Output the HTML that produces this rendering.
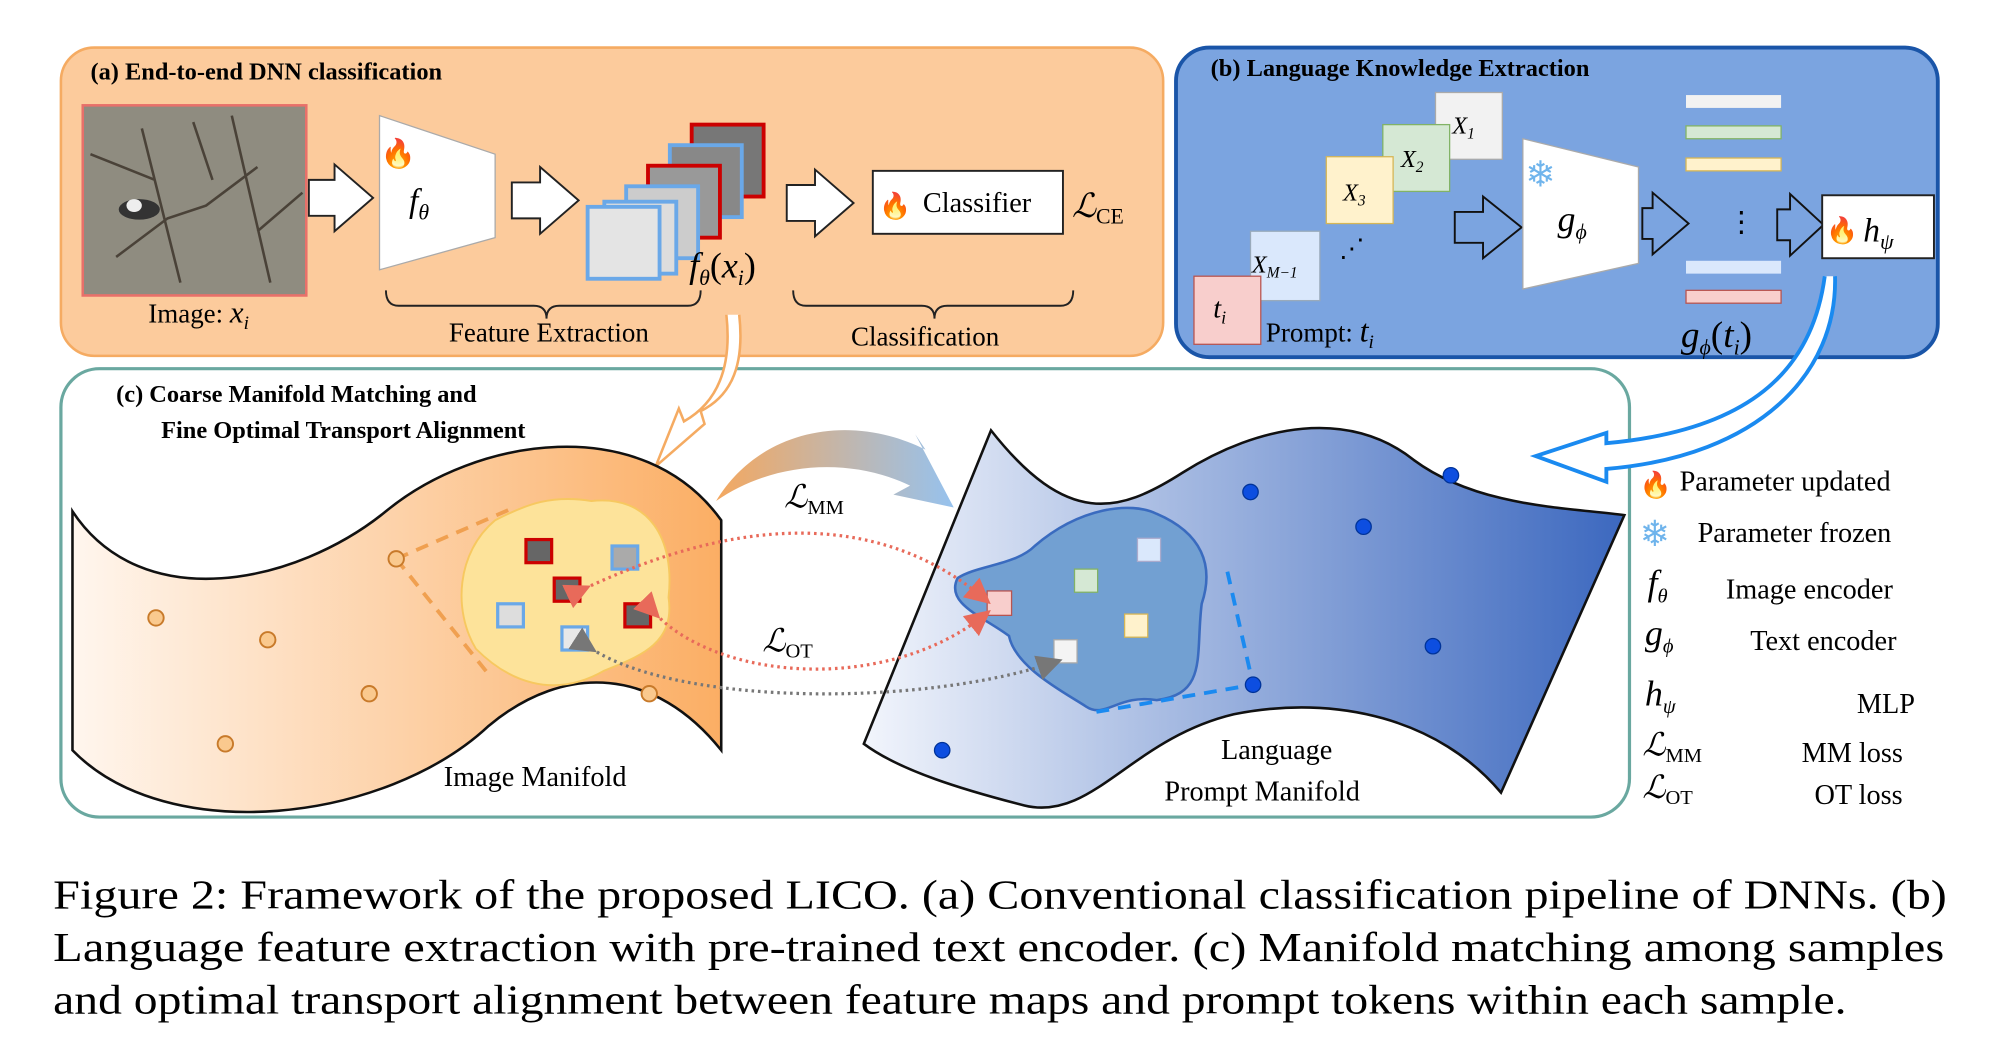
<!DOCTYPE html>
<html><head><meta charset="utf-8"><style>
html,body{margin:0;padding:0;background:#fff}
svg{display:block}
text{font-family:"Liberation Serif",serif}
</style></head><body>
<svg width="2000" height="1047" viewBox="0 0 1556 815" xmlns="http://www.w3.org/2000/svg">
<defs>
<linearGradient id="og" x1="0" x2="1"><stop offset="0" stop-color="#fff6ee"/><stop offset="1" stop-color="#fbae64"/></linearGradient>
<linearGradient id="bg" x1="0" x2="1"><stop offset="0" stop-color="#f2f5fc"/><stop offset="0.4" stop-color="#a7bbe2"/><stop offset="1" stop-color="#3c68bf"/></linearGradient>
<linearGradient id="mm" x1="0" x2="1"><stop offset="0" stop-color="#f4a860"/><stop offset="1" stop-color="#96c2ee"/></linearGradient>
<marker id="ar" markerWidth="8" markerHeight="8" refX="6" refY="4" orient="auto"><path d="M0,0 L8,4 L0,8 z" fill="#e86a5a"/></marker>
<marker id="ag" markerWidth="8" markerHeight="8" refX="6" refY="4" orient="auto"><path d="M0,0 L8,4 L0,8 z" fill="#777"/></marker>
</defs>
<!-- panel a -->
<rect x="47" y="37" width="858" height="240" rx="26" fill="#fccb9c" stroke="#f5ab62" stroke-width="2"/>
<text x="70" y="62" font-size="19" font-weight="bold">(a) End-to-end DNN classification</text>
<rect x="64" y="82" width="174" height="148" fill="#8f8c80" stroke="#e8706a" stroke-width="2"/>
<path d="M90,200 L130,170 L160,160 L200,130 M110,100 L140,220 M180,90 L210,220 M70,120 L120,140 M200,180 L235,150 M150,95 L165,140" stroke="#4a4238" stroke-width="2" fill="none"/>
<ellipse cx="108" cy="163" rx="16" ry="8" fill="#333"/>
<ellipse cx="104" cy="160" rx="6" ry="5" fill="#eee"/>
<text x="115" y="251" font-size="21">Image: <tspan font-style="italic" font-size="24">x</tspan><tspan font-style="italic" font-size="15" dy="5">i</tspan></text>
<g fill="#fff" stroke="#222" stroke-width="1.5">
<path d="M240,140 h20 v-12 l30,26 l-30,26 v-12 h-20 z"/>
<path d="M398,142 h22 v-12 l30,26 l-30,26 v-12 h-22 z"/>
<path d="M612,144 h22 v-12 l30,26 l-30,26 v-12 h-22 z"/>
</g>
<path d="M295,90 L385,120 L385,185 L295,210 z" fill="#fff" stroke="#aaa"/>
<text x="318" y="165" font-size="26" font-style="italic">f<tspan font-size="17" dy="6">θ</tspan></text>
<text x="296" y="127" font-size="22">🔥</text>
<rect x="538" y="97" width="56" height="56" fill="#777" stroke="#c00" stroke-width="3"/>
<rect x="521" y="113" width="56" height="56" fill="#888" stroke="#6aa8e8" stroke-width="3"/>
<rect x="504" y="129" width="56" height="56" fill="#999" stroke="#c00" stroke-width="3"/>
<rect x="487" y="145" width="56" height="56" fill="#ccc" stroke="#6aa8e8" stroke-width="3"/>
<rect x="470" y="157" width="56" height="56" fill="#ddd" stroke="#6aa8e8" stroke-width="3"/>
<rect x="457" y="161" width="56" height="56" fill="#e4e4e4" stroke="#6aa8e8" stroke-width="3"/>
<text x="536" y="216" font-size="28" font-style="italic">f<tspan font-size="17" dy="6">θ</tspan><tspan dy="-6" font-style="normal">(</tspan>x<tspan font-size="17" dy="6">i</tspan><tspan dy="-6" font-style="normal">)</tspan></text>
<rect x="679" y="133" width="148" height="49" fill="#fff" stroke="#222" stroke-width="1.5"/>
<text x="684" y="167" font-size="20">🔥</text>
<text x="718" y="165" font-size="22">Classifier</text>
<text x="834" y="169" font-size="26" font-style="italic">ℒ<tspan font-size="17" font-style="normal" dy="5">CE</tspan></text>
<path d="M300,226 q0,12 10,12 h105 q10,0 10,10 q0,-10 10,-10 h100 q10,0 10,-12" fill="none" stroke="#222" stroke-width="1.5"/>
<text x="349" y="266" font-size="21">Feature Extraction</text>
<path d="M617,226 q0,12 10,12 h90 q10,0 10,10 q0,-10 10,-10 h88 q10,0 10,-12" fill="none" stroke="#222" stroke-width="1.5"/>
<text x="662" y="269" font-size="21">Classification</text>
<!-- panel b -->
<rect x="915" y="37" width="593" height="241" rx="26" fill="#7ba4e0" stroke="#1a55a8" stroke-width="3"/>
<text x="942" y="59" font-size="19" font-weight="bold">(b) Language Knowledge Extraction</text>
<rect x="1117" y="72" width="52" height="52" fill="#f2f2f2" stroke="#aaa"/>
<text x="1130" y="104" font-size="19" font-style="italic">X<tspan font-size="12" dy="4">1</tspan></text>
<rect x="1076" y="97" width="52" height="52" fill="#d5e8d4" stroke="#82b366"/>
<text x="1090" y="130" font-size="19" font-style="italic">X<tspan font-size="12" dy="4">2</tspan></text>
<rect x="1032" y="122" width="52" height="52" fill="#fff2cc" stroke="#d6b656"/>
<text x="1045" y="156" font-size="19" font-style="italic">X<tspan font-size="12" dy="4">3</tspan></text>
<text x="1042" y="200" font-size="20">⋰</text>
<rect x="973" y="180" width="54" height="54" fill="#dae8fc" stroke="#9ab"/>
<text x="974" y="212" font-size="19" font-style="italic">X<tspan font-size="12" dy="4">M−1</tspan></text>
<rect x="929" y="215" width="52" height="53" fill="#f8cecc" stroke="#b85450"/>
<text x="944" y="247" font-size="22" font-style="italic">t<tspan font-size="14" dy="5">i</tspan></text>
<text x="985" y="266" font-size="21">Prompt: <tspan font-style="italic" font-size="25">t</tspan><tspan font-style="italic" font-size="15" dy="5">i</tspan></text>
<g fill="#7ba4e0" stroke="#111" stroke-width="1.5">
<path d="M1132,165 h22 v-12 l30,24 l-30,24 v-12 h-22 z"/>
<path d="M1278,162 h8 v-12 l28,24 l-28,24 v-12 h-8 z"/>
<path d="M1383,163 h10 v-12 l26,24 l-26,24 v-12 h-10 z"/>
</g>
<path d="M1185,108 L1275,130 L1275,205 L1185,225 z" fill="#fff" stroke="#aaa"/>
<text x="1187" y="145" font-size="28" fill="#6fb4ec">❄</text>
<text x="1212" y="180" font-size="28" font-style="italic">g<tspan font-size="17" dy="6">ϕ</tspan></text>
<rect x="1312" y="74" width="74" height="10" fill="#f2f2f2"/>
<rect x="1312" y="98" width="74" height="10" fill="#d5e8d4" stroke="#82b366"/>
<rect x="1312" y="123" width="74" height="10" fill="#fff2cc" stroke="#d6b656"/>
<text x="1344" y="180" font-size="22">⋮</text>
<rect x="1312" y="203" width="74" height="10" fill="#dae8fc"/>
<rect x="1312" y="226" width="74" height="10" fill="#f8cecc" stroke="#b85450"/>
<text x="1308" y="270" font-size="29" font-style="italic">g<tspan font-size="17" dy="6">ϕ</tspan><tspan dy="-6" font-style="normal">(</tspan>t<tspan font-size="17" dy="6">i</tspan><tspan dy="-6" font-style="normal">)</tspan></text>
<rect x="1418" y="152" width="87" height="49" fill="#fff" stroke="#222" stroke-width="1.5"/>
<text x="1421" y="186" font-size="20">🔥</text>
<text x="1450" y="188" font-size="26" font-style="italic">h<tspan font-size="17" dy="6">ψ</tspan></text>
<!-- panel c -->
<rect x="47" y="287" width="1221" height="349" rx="30" fill="#fff" stroke="#6aa8a0" stroke-width="2.5"/>
<text x="90" y="313" font-size="19" font-weight="bold">(c) Coarse Manifold Matching and</text>
<text x="125" y="341" font-size="19" font-weight="bold">Fine Optimal Transport Alignment</text>
<!-- orange arrow from a to c -->
<path d="M575,245 C580,290 565,310 545,320 L548,330 L510,363 L528,318 L532,328 C555,315 570,290 565,245" fill="#fff" stroke="#f5ab62" stroke-width="2"/>
<!-- blue arrow from b -->
<path d="M1420,215 C1410,290 1360,335 1250,345 L1250,337 L1195,355 L1250,375 L1250,365 C1370,355 1430,290 1428,215" fill="#fff" stroke="#1a8af0" stroke-width="3"/>
<!-- image manifold -->
<path d="M56,398 C110,480 230,455 300,398 C370,340 500,320 561,405 L561,584 C510,520 440,515 380,565 C300,640 130,660 56,584 z" fill="url(#og)" stroke="#111" stroke-width="2"/>
<path d="M385,405 C410,392 430,385 460,390 C505,385 525,420 520,465 C525,500 500,510 470,522 C430,545 395,530 370,505 C352,475 355,430 385,405 z" fill="#fde39a" stroke="#f7c860" stroke-width="1.5"/>
<path d="M308,435 L400,395 M308,435 L380,525" stroke="#f0a050" stroke-width="3" stroke-dasharray="10,7" fill="none"/>
<g fill="#fac98e" stroke="#c87a2a" stroke-width="1.5">
<circle cx="308" cy="435" r="6"/><circle cx="121" cy="481" r="6"/><circle cx="208" cy="498" r="6"/><circle cx="287" cy="540" r="6"/><circle cx="505" cy="540" r="6"/><circle cx="175" cy="579" r="6"/>
</g>
<rect x="409" y="420" width="20" height="18" fill="#666" stroke="#c00" stroke-width="2.5"/>
<rect x="476" y="425" width="20" height="18" fill="#aaa" stroke="#6aa8e8" stroke-width="2.5"/>
<rect x="431" y="450" width="20" height="18" fill="#666" stroke="#c00" stroke-width="2.5"/>
<rect x="486" y="470" width="20" height="18" fill="#666" stroke="#c00" stroke-width="2.5"/>
<rect x="387" y="470" width="20" height="18" fill="#ddd" stroke="#6aa8e8" stroke-width="2.5"/>
<rect x="437" y="488" width="20" height="18" fill="#e8e8e8" stroke="#6aa8e8" stroke-width="2.5"/>
<text x="345" y="612" font-size="22">Image Manifold</text>
<!-- MM arrow -->
<path d="M557,390 C590,335 660,320 720,350 L712,338 L742,395 L695,385 L708,378 C660,355 600,360 557,390 z" fill="url(#mm)"/>
<text x="610" y="395" font-size="25" font-style="italic">ℒ<tspan font-size="16" font-style="normal" dy="5">MM</tspan></text>
<text x="593" y="507" font-size="25" font-style="italic">ℒ<tspan font-size="16" font-style="normal" dy="5">OT</tspan></text>
<!-- language manifold -->
<path d="M771,335 C830,410 870,400 920,368 C980,330 1050,318 1100,358 C1150,395 1220,395 1264,401 L1168,617 C1120,560 1040,540 960,556 C880,575 850,640 797,627 C750,615 700,600 672,579 z" fill="url(#bg)" stroke="#111" stroke-width="2"/>
<path d="M805,425 C840,395 880,390 900,400 C935,415 945,440 935,470 C930,510 940,540 900,545 C870,540 860,560 845,550 C830,540 790,520 785,495 C765,480 735,470 745,450 C760,440 790,440 805,425 z" fill="#72a0d2" stroke="#3a6bbf" stroke-width="2"/>
<path d="M955,445 L975,533 L848,555" stroke="#1a8af0" stroke-width="3" stroke-dasharray="10,7" fill="none"/>
<g fill="#0d4ee0" stroke="#003399">
<circle cx="973" cy="383" r="6"/><circle cx="1129" cy="370" r="6"/><circle cx="1061" cy="410" r="6"/><circle cx="1115" cy="503" r="6"/><circle cx="975" cy="533" r="6"/><circle cx="733" cy="584" r="6"/>
</g>
<rect x="885" y="419" width="18" height="18" fill="#dae8fc" stroke="#aac"/>
<rect x="836" y="443" width="18" height="18" fill="#d5e8d4" stroke="#82b366"/>
<rect x="768" y="460" width="19" height="19" fill="#f8cecc" stroke="#b85450"/>
<rect x="875" y="478" width="18" height="18" fill="#fff2cc" stroke="#d6b656"/>
<rect x="820" y="498" width="18" height="18" fill="#f4f4f4" stroke="#aaa"/>
<text x="950" y="591" font-size="22">Language</text>
<text x="906" y="623" font-size="22">Prompt Manifold</text>
<!-- OT arrows -->
<path d="M455,458 C600,390 700,410 767,467" fill="none" stroke="#e86a5a" stroke-width="2.5" stroke-dasharray="2,3" marker-start="url(#ar)" marker-end="url(#ar)"/>
<path d="M510,478 C560,530 690,540 767,478" fill="none" stroke="#e86a5a" stroke-width="2.5" stroke-dasharray="2,3" marker-start="url(#ar)" marker-end="url(#ar)"/>
<path d="M460,505 C530,550 720,550 822,515" fill="none" stroke="#777" stroke-width="2.5" stroke-dasharray="2,3" marker-start="url(#ag)" marker-end="url(#ag)"/>
<!-- legend -->
<text x="1276" y="384" font-size="20">🔥</text>
<text x="1307" y="382" font-size="22">Parameter updated</text>
<text x="1276" y="425" font-size="28" fill="#6fb4ec">❄</text>
<text x="1321" y="422" font-size="22">Parameter frozen</text>
<text x="1282" y="463" font-size="28" font-style="italic">f<tspan font-size="16" dy="6">θ</tspan></text>
<text x="1343" y="466" font-size="22">Image encoder</text>
<text x="1280" y="502" font-size="28" font-style="italic">g<tspan font-size="16" dy="6">ϕ</tspan></text>
<text x="1362" y="506" font-size="22">Text encoder</text>
<text x="1280" y="549" font-size="28" font-style="italic">h<tspan font-size="16" dy="6">ψ</tspan></text>
<text x="1445" y="555" font-size="22">MLP</text>
<text x="1278" y="588" font-size="25" font-style="italic">ℒ<tspan font-size="16" font-style="normal" dy="5">MM</tspan></text>
<text x="1402" y="593" font-size="22">MM loss</text>
<text x="1278" y="621" font-size="25" font-style="italic">ℒ<tspan font-size="16" font-style="normal" dy="5">OT</tspan></text>
<text x="1412" y="626" font-size="22">OT loss</text>
<!-- caption -->
<text x="41" y="707" font-size="32.5" textLength="1474" lengthAdjust="spacingAndGlyphs">Figure 2: Framework of the proposed LICO. (a) Conventional classification pipeline of DNNs. (b)</text>
<text x="41" y="748" font-size="32.5" textLength="1472" lengthAdjust="spacingAndGlyphs">Language feature extraction with pre-trained text encoder. (c) Manifold matching among samples</text>
<text x="41" y="789" font-size="32.5" textLength="1396" lengthAdjust="spacingAndGlyphs">and optimal transport alignment between feature maps and prompt tokens within each sample.</text>
</svg>
</body></html>
